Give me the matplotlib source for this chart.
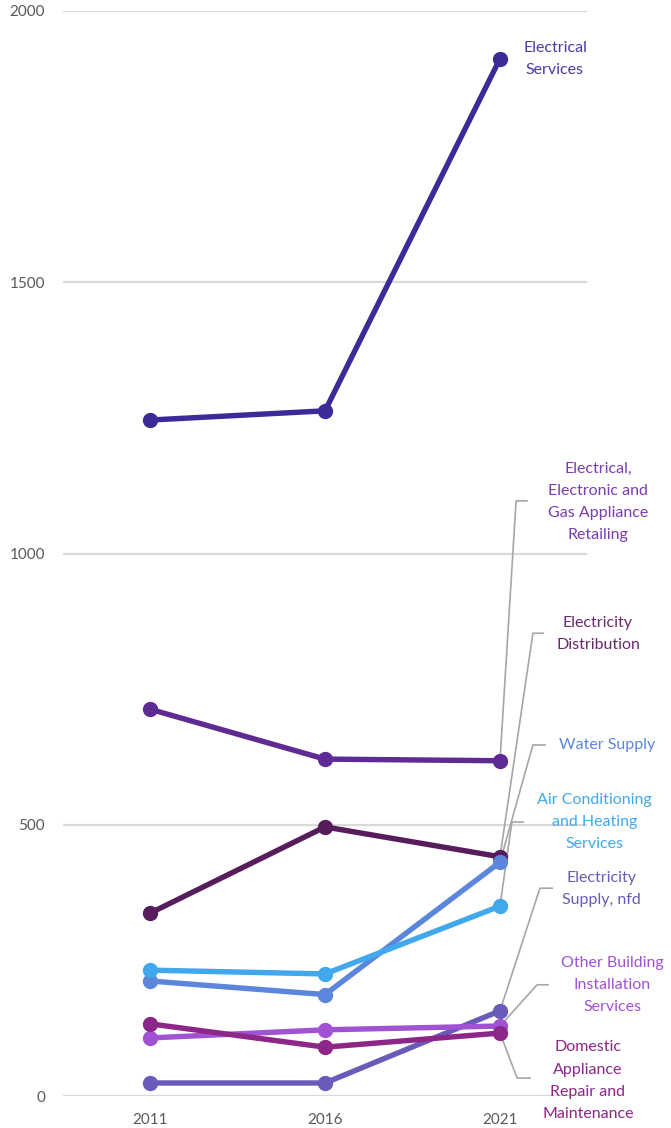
import matplotlib
matplotlib.use("Agg")
import matplotlib.pyplot as plt

plt.rcParams["font.family"] = ["Lato", "DejaVu Sans"]

years = [2011, 2016, 2021]

electrical_services = [1246, 1263, 1912]
appliance_retailing = [713, 621, 618]
electricity_distribution = [337, 496, 441]
water_supply = [212, 187, 431]
air_conditioning = [232, 225, 350]
electricity_supply_nfd = [24, 24, 157]
other_building = [107, 122, 129]
domestic_repair = [133, 90, 116]

series = [
    ("Electrical\nServices", electrical_services, "#3C2A98", "#4B3AA8"),
    ("Electrical,\nElectronic and\nGas Appliance\nRetailing", appliance_retailing, "#5E2A93", "#7A3DB0"),
    ("Electricity\nDistribution", electricity_distribution, "#561C5B", "#672A6C"),
    ("Water Supply", water_supply, "#5B86DC", "#5B86DC"),
    ("Air Conditioning\nand Heating\nServices", air_conditioning, "#41A8EE", "#41A8EE"),
    ("Electricity\nSupply, nfd", electricity_supply_nfd, "#6A5ABA", "#6A5ABA"),
    ("Other Building\nInstallation\nServices", other_building, "#A052D2", "#A052D2"),
    ("Domestic\nAppliance\nRepair and\nMaintenance", domestic_repair, "#8C2689", "#8C2689"),
]

# label placement: (text x, text y, elbow x, elbow y, elbow end x) in data units, None = no leader
label_pos = [
    (2022.57, 1912, None, None, None),
    (2023.80, 1095, 2021.46, 1097, 2021.77),
    (2023.80, 851, 2021.94, 853, 2022.23),
    (2024.06, 647, 2021.94, 647, 2022.29),
    (2023.71, 505, 2021.34, 505, 2021.66),
    (2023.91, 382, 2022.14, 383, 2022.49),
    (2024.20, 205, 2022.06, 205, 2022.37),
    (2023.51, 28, 2021.49, 33, 2021.86),
]

fig = plt.figure(figsize=(6.71, 11.28), dpi=100)
ax = fig.add_axes([63 / 671, 32 / 1128, 524 / 671, 1085 / 1128])

ax.set_xlim(2008.514, 2023.486)
ax.set_ylim(0, 2000)
ax.set_yticks([0, 500, 1000, 1500, 2000])
ax.set_xticks(years)
ax.grid(axis="y", color="#d9d9d9", linewidth=1.6)
ax.set_axisbelow(True)
for s in ax.spines.values():
    s.set_visible(False)
ax.tick_params(length=0, labelsize=11, labelcolor="#595959")
ax.tick_params(axis="y", pad=13)
ax.tick_params(axis="x", pad=12)

# leader lines first so markers sit on top
for (name, vals, col, tcol), (tx, ty, ex, ey, ee) in zip(series, label_pos):
    if ex is not None:
        ax.plot([years[-1], ex, ee], [vals[-1], ey, ey], color="#a6a6a6",
                linewidth=1.2, clip_on=False, zorder=1)

for (name, vals, col, tcol), (tx, ty, ex, ey, ee) in zip(series, label_pos):
    ax.plot(years, vals, color=col, linewidth=3.9, marker="o", markersize=10,
            solid_capstyle="round", clip_on=False, zorder=3)
    ax.text(tx, ty, name, color=tcol, fontsize=11.5, ha="center", va="center",
            linespacing=1.75, clip_on=False, zorder=4)

fig.savefig("out.png", dpi=100)
